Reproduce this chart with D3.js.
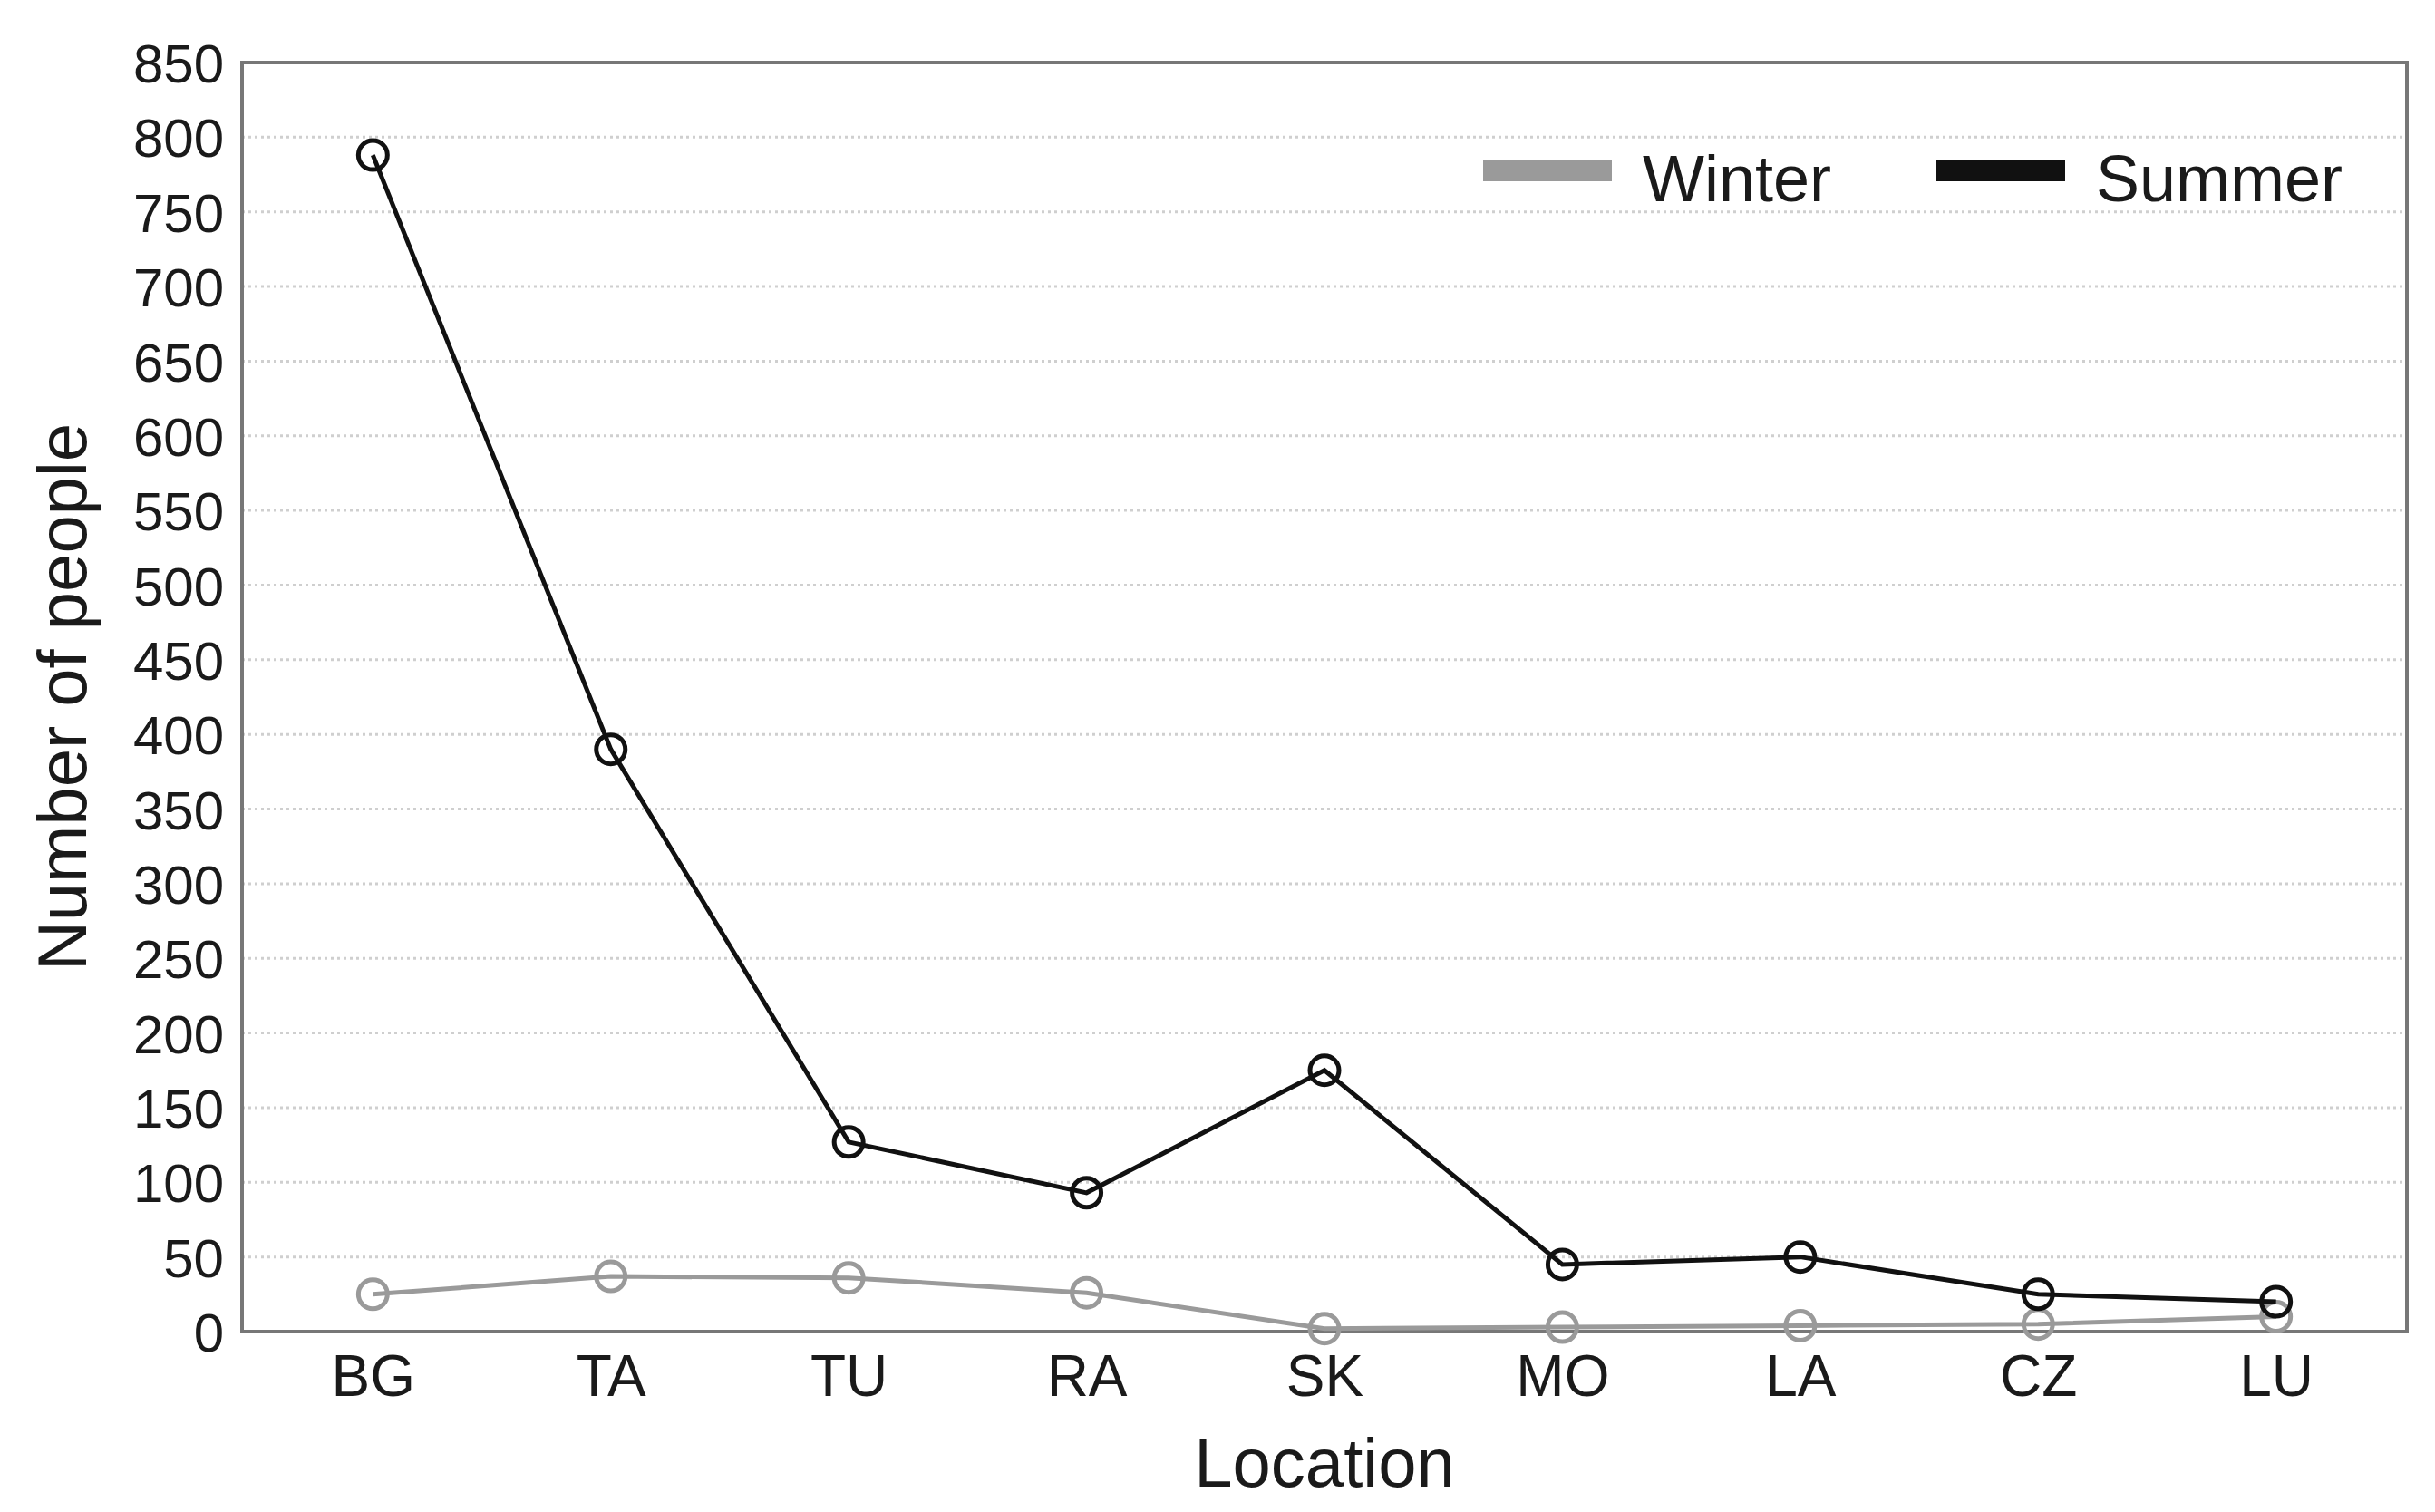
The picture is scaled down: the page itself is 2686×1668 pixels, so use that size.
<!DOCTYPE html>
<html>
<head>
<meta charset="utf-8">
<script src="https://cdn.jsdelivr.net/npm/d3@7"></script>
<style>
  body { margin: 0; background: #fff; }
  text { font-family: "Liberation Sans", Arial, sans-serif; fill: #1a1a1a; }
</style>
</head>
<body>
<svg id="line-chart" width="2686" height="1668"></svg>
<script>
const locations = ['BG', 'TA', 'TU', 'RA', 'SK', 'MO', 'LA', 'CZ', 'LU'];
const winter = [25, 37, 36, 26, 2, 3, 4, 5, 10];
const summer = [788, 390, 127, 93, 175, 45, 50, 25, 20];
const yTicks = d3.range(0, 851, 50);

const svg = d3.select('#line-chart');
const width = 2686;
const height = 1668;
const margin = { top: 69, right: 31, bottom: 199, left: 267 };

const xScale = d3.scalePoint()
  .domain(locations)
  .range([margin.left, width - margin.right])
  .padding(0.55);

const yScale = d3.scaleLinear()
  .domain([0, 850])
  .range([height - margin.bottom, margin.top]);

// grid
svg.append('g')
  .selectAll('line')
  .data(yTicks.filter(d => d > 0 && d < 850))
  .join('line')
  .attr('x1', margin.left)
  .attr('x2', width - margin.right)
  .attr('y1', d => yScale(d))
  .attr('y2', d => yScale(d))
  .attr('stroke', '#cfcfcf')
  .attr('stroke-width', 3)
  .attr('stroke-dasharray', '3,4');

// frame
svg.append('rect')
  .attr('x', margin.left)
  .attr('y', margin.top)
  .attr('width', width - margin.left - margin.right)
  .attr('height', height - margin.top - margin.bottom)
  .attr('fill', 'none')
  .attr('stroke', '#777')
  .attr('stroke-width', 4);

// axes
const yAxis = svg.append('g')
  .attr('transform', `translate(${margin.left}, 0)`)
  .call(d3.axisLeft(yScale).tickValues(yTicks).tickSize(0).tickPadding(20));
yAxis.select('.domain').remove();
yAxis.selectAll('text').attr('font-size', 60).attr('dy', '0.36em');

const xAxis = svg.append('g')
  .attr('transform', `translate(0, ${height - margin.bottom})`)
  .call(d3.axisBottom(xScale).tickSize(0).tickPadding(26));
xAxis.select('.domain').remove();
xAxis.selectAll('text').attr('font-size', 64);

svg.append('text')
  .attr('transform', `translate(95, ${(margin.top + height - margin.bottom) / 2}) rotate(-90)`)
  .attr('text-anchor', 'middle')
  .attr('font-size', 76)
  .text('Number of people');

svg.append('text')
  .attr('x', (margin.left + width - margin.right) / 2)
  .attr('y', 1640)
  .attr('text-anchor', 'middle')
  .attr('font-size', 76)
  .text('Location');

const line = d3.line()
  .x((d, i) => xScale(locations[i]))
  .y(d => yScale(d));

const series = [
  { name: 'Winter', values: winter, color: '#9a9a9a' },
  { name: 'Summer', values: summer, color: '#111' }
];

series.forEach(s => {
  svg.append('path')
    .datum(s.values)
    .attr('fill', 'none')
    .attr('stroke', s.color)
    .attr('stroke-width', 5)
    .attr('d', line);
  svg.append('g')
    .selectAll('circle')
    .data(s.values)
    .join('circle')
    .attr('cx', (d, i) => xScale(locations[i]))
    .attr('cy', d => yScale(d))
    .attr('r', 16)
    .attr('fill', 'none')
    .attr('stroke', s.color)
    .attr('stroke-width', 5);
});

// legend
const legendX = [1636, 2136];
series.forEach((s, i) => {
  svg.append('rect')
    .attr('x', legendX[i])
    .attr('y', 176)
    .attr('width', 142)
    .attr('height', 24)
    .attr('fill', s.color);
  svg.append('text')
    .attr('x', legendX[i] + 176)
    .attr('y', 222)
    .attr('font-size', 72)
    .text(s.name);
});
</script>
</body>
</html>
